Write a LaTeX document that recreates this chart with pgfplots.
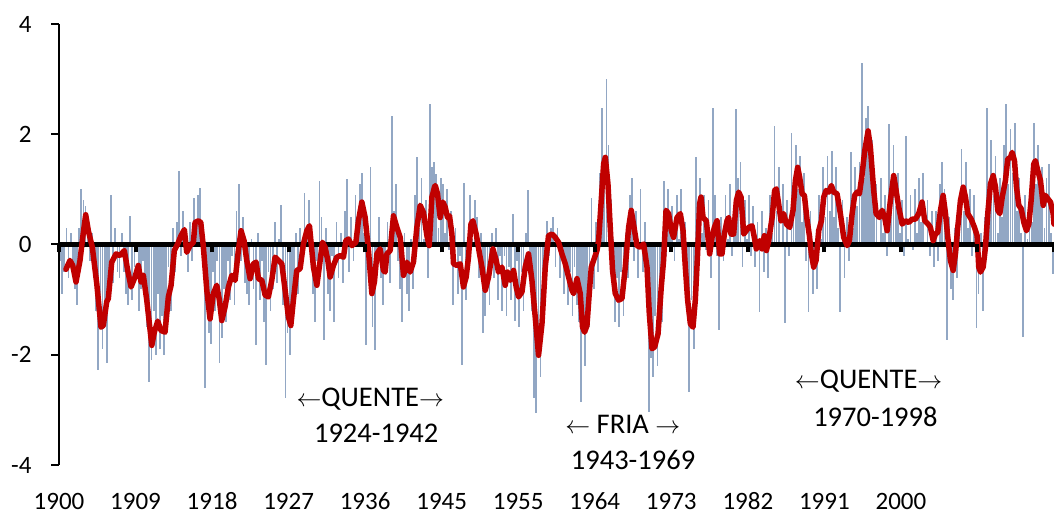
\documentclass[border=0pt]{standalone}
\usepackage{pgfplots}
\usepackage{pgfplotstable}
\pgfplotsset{compat=1.18}
\usepackage{fontspec}
\setmainfont{Carlito}
\definecolor{barblue}{RGB}{146,167,196}
\definecolor{pdored}{RGB}{192,0,0}
\pgfplotstableread{
year q1 q2 q3 q4
1900 -0.3 -0.9 -0.5 0.3
1901 -0.6 0.2 -0.4 -0.8
1902 -1.1 0.3 1.01 0.8
1903 0.7 0.4 -0.3 0.2
1904 -0.6 -1.2 -2.28 -1.4
1905 -1.9 -1.2 -2.15 -0.6
1906 0.89 -0.7 0.3 -0.5
1907 -0.6 0.2 -0.5 -0.9
1908 -1.1 0.52 -1.0 -0.4
1909 -0.1 -1.2 -0.8 -0.3
1910 -0.9 -1.5 -2.5 -2.1
1911 -1.2 -2.0 -0.9 -1.9
1912 -1.3 -2.0 -1.1 -0.4
1913 -1.2 0.3 -0.5 0.4
1914 1.34 -0.2 0.6 0.1
1915 -0.5 0.4 -0.3 0.85
1916 0.3 0.9 1.03 -0.4
1917 -2.61 -0.6 -1.6 -1.8
1918 -0.5 -1.2 -0.3 -2.15
1919 -1.7 -0.8 -1.4 -0.3
1920 -1.0 -0.2 -1.1 0.6
1921 1.1 -0.3 0.5 -0.7
1922 -0.9 -1.1 0.1 -0.8
1923 -1.83 0.2 -1.0 -0.3
1924 -1.4 -2.19 -0.5 -1.2
1925 -0.8 0.4 -0.7 0.1
1926 0.71 -1.1 -2.79 -1.6
1927 -2.0 -1.3 -0.6 0.2
1928 -0.9 0.3 -0.4 0.94
1929 0.1 0.8 -0.2 -0.9
1930 -1.4 -0.3 1.16 0.5
1931 -1.74 0.3 -0.9 -1.2
1932 -0.2 -1.41 0.4 -0.6
1933 0.2 -0.7 0.6 1.19
1934 -0.5 0.5 -0.3 0.9
1935 0.3 1.1 1.3 0.2
1936 -1.83 -0.4 1.4 -1.5
1937 -1.92 -0.3 0.5 -0.6
1938 -1.1 -0.2 0.4 -0.7
1939 2.33 0.6 1.1 -0.3
1940 -0.8 -1.41 0.2 -0.9
1941 -1.2 0.1 -0.8 0.9
1942 1.58 0.3 1.2 0.1
1943 0.8 -0.6 2.55 1.4
1944 1.5 1.28 0.3 1.2
1945 1.1 0.2 1.0 -0.1
1946 0.6 -1.1 0.3 -0.9
1947 -0.2 -2.19 1.12 -1.0
1948 -0.6 0.9 0.1 0.8
1949 0.5 -0.6 0.2 -1.61
1950 -1.3 -0.4 -1.1 0.2
1951 -0.6 0.3 -1.0 -0.2
1952 -1.2 -0.2 -1.3 -0.4
1953 -1.0 0.56 -1.38 -0.3
1954 -1.5 -0.5 -1.2 0.2
1955 0.98 -0.6 -1.2 -2.79
1956 -3.06 -1.6 -2.4 -0.9
1957 -0.8 0.43 -0.2 0.3
1958 0.5 -0.4 0.3 -0.6
1959 -0.1 -0.9 -0.3 -1.1
1960 -0.5 -1.3 -0.4 -1.1
1961 -1.4 -2.86 -1.2 -2.2
1962 -1.0 -1.5 0.85 -0.8
1963 0.4 -0.5 1.3 2.48
1964 1.2 3.0 1.8 0.8
1965 0.1 -1.4 -0.6 -1.5
1966 -0.5 -1.3 0.2 -0.6
1967 0.9 1.2 -0.3 0.6
1968 -0.6 1.01 -0.5 0.4
1969 -0.9 -3.04 -2.06 -2.4
1970 -1.3 -2.2 -1.0 -1.4
1971 1.16 -0.2 1.0 0.2
1972 0.7 -0.3 0.9 0.1
1973 1.0 -0.2 0.4 -0.9
1974 -2.68 -1.0 -1.9 1.58
1975 0.4 1.2 0.2 0.9
1976 -0.1 0.8 -0.6 2.48
1977 0.9 -0.2 -1.56 0.5
1978 -0.3 0.9 0.1 1.1
1979 -0.2 0.6 2.46 1.2
1980 1.5 -0.4 0.8 0.1
1981 0.9 -0.2 0.7 -0.4
1982 0.4 -1.23 0.6 -0.5
1983 0.3 -0.6 0.9 0.2
1984 2.15 0.6 1.4 0.0
1985 1.1 -1.43 0.8 -0.2
1986 2.03 0.5 1.8 1.0
1987 1.6 0.4 1.3 -0.3
1988 -1.23 0.6 -0.9 -0.2
1989 -0.8 0.9 0.1 1.4
1990 0.5 1.6 0.6 1.7
1991 0.5 1.4 0.3 -1.23
1992 0.8 -0.6 0.5 -0.3
1993 1.67 0.3 1.4 0.7
1994 1.5 3.3 1.2 2.3
1995 2.52 1.6 1.9 0.6
1996 1.1 0.0 1.2 0.2
1997 0.9 -0.2 2.19 0.7
1998 1.8 0.7 1.3 0.2
1999 0.8 -0.2 1.97 0.1
2000 0.9 -0.1 1.0 0.2
2001 1.2 0.4 1.3 0.0
2002 0.8 -0.2 0.6 -0.4
2003 0.6 -0.3 1.1 1.5
2004 1.0 -1.74 0.5 -0.8
2005 -1.0 0.3 -0.6 0.9
2006 1.73 0.6 1.5 0.3
2007 1.0 -0.2 0.9 -1.52
2008 -0.9 0.2 -1.2 0.5
2009 2.48 0.4 1.9 0.9
2010 1.6 0.2 1.2 0.5
2011 1.8 2.55 1.1 2.1
2012 1.3 2.2 0.6 1.2
2013 0.2 -1.68 0.9 0.1
2014 0.9 0.4 2.21 1.1
2015 1.8 0.9 1.4 0.3
2016 1.2 1.46 0.2 -0.53
}\bars
\begin{document}
\begin{tikzpicture}
\begin{axis}[
  at={(0pt,0pt)}, anchor=south west,
  scale only axis, width=995pt, height=441pt,
  xmin=1900, xmax=2017, ymin=-4, ymax=4,
  axis x line=middle, axis y line=left,
  x axis line style={draw=none},
  y axis line style={line width=2.8pt, -},
  hide obscured x ticks=false, hide obscured y ticks=false,
  axis on top, clip=false,
  xtick={1900,1909,...,2017},
  xticklabels={1900,1909,1918,1927,1936,1945,1955,1964,1973,1982,1991,2000,{},{}},
  ytick={-4,-2,0,2,4}, yticklabels={-4,-2,0,2,4},
  tick align=outside, major tick length=8pt,
  xtick style={line width=4pt, black},
  ytick style={line width=2pt, black},
  tick label style={font=\fontsize{25}{30}\selectfont},
  xticklabel style={anchor=center, yshift=-249pt},
  yticklabel style={anchor=east, xshift=-16pt},
]
\addplot[ycomb, barblue, line width=1.8pt, no markers] table[x expr=\thisrow{year}+0.125, y=q1] {\bars};
\addplot[ycomb, barblue, line width=1.8pt, no markers] table[x expr=\thisrow{year}+0.375, y=q2] {\bars};
\addplot[ycomb, barblue, line width=1.8pt, no markers] table[x expr=\thisrow{year}+0.625, y=q3] {\bars};
\addplot[ycomb, barblue, line width=1.8pt, no markers] table[x expr=\thisrow{year}+0.875, y=q4] {\bars};
\addplot[black, line width=4.5pt] coordinates {(1900,0) (2017,0)};
\addplot[pdored, line width=5.5pt, line join=round, line cap=round] coordinates {
(1900.82,-0.45) (1901.29,-0.29) (1901.61,-0.38) (1902.0,-0.68) (1902.47,-0.29) (1902.79,0.13) (1903.14,0.54) (1903.45,0.25) (1903.92,-0.05) (1904.44,-0.71) (1904.94,-1.50) (1905.21,-1.47) (1905.61,-1.04) (1905.80,-0.98) (1906.20,-0.32) (1906.71,-0.17) (1907.18,-0.20) (1907.68,-0.11) (1908.08,-0.47) (1908.47,-0.77) (1908.94,-0.59) (1909.33,-0.38) (1909.65,-0.68) (1909.92,-0.56) (1910.32,-1.01) (1910.91,-1.83) (1911.21,-1.59) (1911.61,-1.39) (1912.0,-1.56) (1912.47,-1.59) (1912.86,-0.95) (1913.18,-0.74) (1913.56,-0.11) (1913.96,0.01) (1914.35,0.16) (1914.74,0.27)
(1915.02,-0.14) (1915.41,-0.02) (1915.80,0.04) (1916.0,0.40) (1916.39,0.43) (1916.67,0.40) (1916.98,-0.05) (1917.38,-0.83) (1917.76,-1.35) (1918.15,-0.89) (1918.55,-0.74) (1918.86,-1.01) (1919.14,-1.38) (1919.53,-1.13) (1919.92,-0.77) (1920.32,-0.56) (1920.71,-0.65) (1921.09,-0.11) (1921.41,0.25) (1921.76,0.07) (1922.08,-0.29) (1922.47,-0.62) (1922.86,-0.35) (1923.18,-0.32) (1923.45,-0.62) (1923.85,-0.65) (1924.24,-0.92) (1924.62,-0.95) (1925.02,-0.65) (1925.41,-0.23) (1925.80,-0.29) (1926.20,-0.35) (1926.59,-0.83) (1926.98,-1.32) (1927.26,-1.47) (1927.56,-1.01) (1927.96,-0.47) (1928.35,-0.44) (1928.74,0.01) (1929.14,0.25) (1929.45,0.34)
(1929.92,-0.41) (1930.32,-0.74) (1930.71,-0.29) (1930.98,0.04) (1931.29,-0.05) (1931.61,-0.29) (1931.88,-0.59) (1932.27,-0.38) (1932.67,-0.23) (1933.06,-0.20) (1933.45,-0.23) (1933.73,0.07) (1934.04,0.10) (1934.44,-0.02) (1934.91,0.04) (1935.21,0.43) (1935.61,0.77) (1936.0,0.49) (1936.39,-0.11) (1936.79,-0.89) (1937.09,-0.68) (1937.38,-0.17) (1937.76,-0.08) (1938.15,-0.47) (1938.35,-0.50) (1938.55,-0.17) (1938.94,-0.11) (1939.33,0.52) (1939.73,0.31) (1940.12,0.13) (1940.51,-0.56) (1940.91,-0.32) (1941.29,-0.50) (1941.68,-0.32) (1942.08,0.31) (1942.47,0.71) (1942.86,0.58) (1943.26,0.16) (1943.53,-0.02) (1943.85,0.86) (1944.15,1.04)
(1944.24,1.07) (1944.51,0.92) (1944.82,0.49) (1945.14,0.77) (1945.41,0.68) (1945.68,0.49) (1945.92,0.52) (1946.20,0.19) (1946.39,-0.35) (1946.79,-0.38) (1947.18,-0.35) (1947.56,-0.77) (1947.88,-0.59) (1948.15,-0.23) (1948.44,0.37) (1948.67,0.43) (1949.06,0.19) (1949.45,-0.17) (1949.73,-0.41) (1950.12,-0.83) (1950.51,-0.59) (1951.02,-0.08) (1951.41,-0.29) (1951.68,-0.50) (1952.08,-0.41) (1952.47,-0.74) (1952.74,-0.50) (1953.06,-0.65) (1953.45,-0.47) (1953.76,-0.77) (1954.04,-0.95) (1954.44,-0.86) (1954.82,-0.41) (1955.21,-0.17) (1955.61,-0.65) (1956.0,-1.32) (1956.39,-2.01) (1956.79,-1.44) (1957.18,-0.41) (1957.56,0.16) (1957.96,0.19) (1958.35,0.13)
(1958.74,0.04) (1959.14,-0.17) (1959.53,-0.35) (1959.92,-0.59) (1960.32,-0.83) (1960.51,-0.89) (1960.91,-0.62) (1961.29,-0.89) (1961.56,-1.50) (1961.80,-1.59) (1962.08,-1.47) (1962.35,-0.89) (1962.59,-0.41) (1962.86,-0.29) (1963.26,-0.11) (1963.45,0.07) (1963.76,0.80) (1964.04,1.46) (1964.24,1.58) (1964.55,1.10) (1964.82,0.31) (1965.09,-0.47) (1965.41,-0.89) (1965.80,-1.01) (1966.20,-0.98) (1966.59,-0.41) (1966.98,0.31) (1967.29,0.62) (1967.68,0.25) (1967.96,-0.02) (1968.35,-0.05) (1968.74,0.01) (1969.14,-0.41) (1969.41,-1.25) (1969.73,-1.89) (1970.04,-1.86) (1970.44,-1.62) (1970.82,-0.77) (1971.09,-0.29) (1971.38,0.62) (1971.68,0.56) (1972.0,0.25) (1972.27,0.13) (1972.67,0.49) (1973.06,0.56)
(1973.38,0.25) (1973.65,-0.41) (1973.92,-1.01) (1974.24,-1.44) (1974.55,-1.50) (1974.82,-1.01) (1975.09,-0.17) (1975.33,0.74) (1975.49,0.86) (1975.73,0.49) (1976.12,0.43) (1976.51,-0.17) (1976.79,0.13) (1977.06,0.31) (1977.38,0.43) (1977.68,-0.17) (1977.96,-0.17) (1978.24,0.19) (1978.55,0.43) (1978.74,0.49) (1979.02,0.19) (1979.33,0.19) (1979.65,0.80) (1979.92,0.95) (1980.20,0.86) (1980.51,0.19) (1980.82,0.25) (1981.09,0.31) (1981.49,0.34) (1981.76,0.13) (1982.0,-0.08) (1982.39,0.07) (1982.67,-0.08) (1982.94,0.16) (1983.18,-0.11) (1983.45,0.07) (1983.85,0.49) (1984.15,0.98) (1984.35,1.01) (1984.62,0.74) (1984.90,0.43) (1985.21,0.56) (1985.53,0.37) (1985.92,0.31) (1986.31,0.62) (1986.59,1.16) (1986.86,1.40) (1987.09,1.22) (1987.38,0.92) (1987.65,0.89)
(1987.96,0.45) (1988.24,0.16) (1988.47,-0.17) (1988.74,-0.41) (1989.02,-0.29) (1989.33,0.25) (1989.65,0.43) (1989.92,0.86) (1990.20,0.98) (1990.51,0.95) (1990.82,1.07) (1991.09,0.95) (1991.49,0.92) (1991.88,0.56) (1992.27,0.13) (1992.67,-0.02) (1992.94,0.07) (1993.26,0.56) (1993.56,0.89) (1993.84,0.95) (1994.12,0.92) (1994.44,1.28) (1994.74,1.70) (1995.14,2.06) (1995.41,1.76) (1995.80,0.98) (1996.08,0.56) (1996.47,0.49) (1996.79,0.62) (1997.09,0.49) (1997.38,0.25) (1997.76,0.80) (1998.15,1.25) (1998.43,0.98) (1998.74,0.68) (1999.14,0.37) (1999.53,0.43) (1999.92,0.40) (2000.32,0.46) (2000.71,0.46) (2001.09,0.56) (2001.49,0.77) (2001.80,0.43) (2002.20,0.37) (2002.47,0.31)
(2002.79,0.07) (2003.06,0.19) (2003.33,0.22) (2003.65,0.62) (2003.96,0.89) (2004.24,0.56) (2004.51,0.13) (2004.82,-0.29) (2005.14,-0.47) (2005.41,-0.17) (2005.68,0.31) (2006.0,0.80) (2006.32,1.04) (2006.59,0.86) (2006.86,0.56) (2007.26,0.46) (2007.65,0.31) (2007.96,0.16) (2008.15,-0.41) (2008.35,-0.50) (2008.67,-0.41) (2008.94,-0.05) (2009.21,0.56) (2009.53,1.10) (2009.85,1.25) (2010.12,1.04) (2010.39,0.62) (2010.63,0.56) (2010.91,0.86) (2011.29,1.16) (2011.56,1.55) (2011.88,1.58) (2012.08,1.67) (2012.35,1.52) (2012.59,1.04) (2012.86,0.71) (2013.14,0.65) (2013.45,0.40) (2013.76,0.25) (2014.04,0.37) (2014.31,0.80) (2014.62,1.46) (2014.82,1.52) (2015.09,1.34) (2015.41,1.16) (2015.73,0.71) (2016.0,0.89) (2016.27,0.83) (2016.59,0.77) (2016.90,0.56) (2017.0,0.37)
};
\node[font=\fontsize{28.5}{33}\selectfont] at (axis cs:1936.6,-2.80) {$\leftarrow$QUENTE$\rightarrow$};
\node[font=\fontsize{28.5}{33}\selectfont] at (axis cs:1937.3,-3.42) {1924-1942};
\node[font=\fontsize{28.5}{33}\selectfont] at (axis cs:1966.3,-3.27) {$\leftarrow$ FRIA $\rightarrow$};
\node[font=\fontsize{28.5}{33}\selectfont] at (axis cs:1967.5,-3.91) {1943-1969};
\node[font=\fontsize{28.5}{33}\selectfont] at (axis cs:1995.2,-2.48) {$\leftarrow$QUENTE$\rightarrow$};
\node[font=\fontsize{28.5}{33}\selectfont] at (axis cs:1996.0,-3.12) {1970-1998};
\end{axis}
\pgfresetboundingbox
\useasboundingbox (-59pt,-53pt) rectangle (995pt,465pt);
\end{tikzpicture}
\end{document}
